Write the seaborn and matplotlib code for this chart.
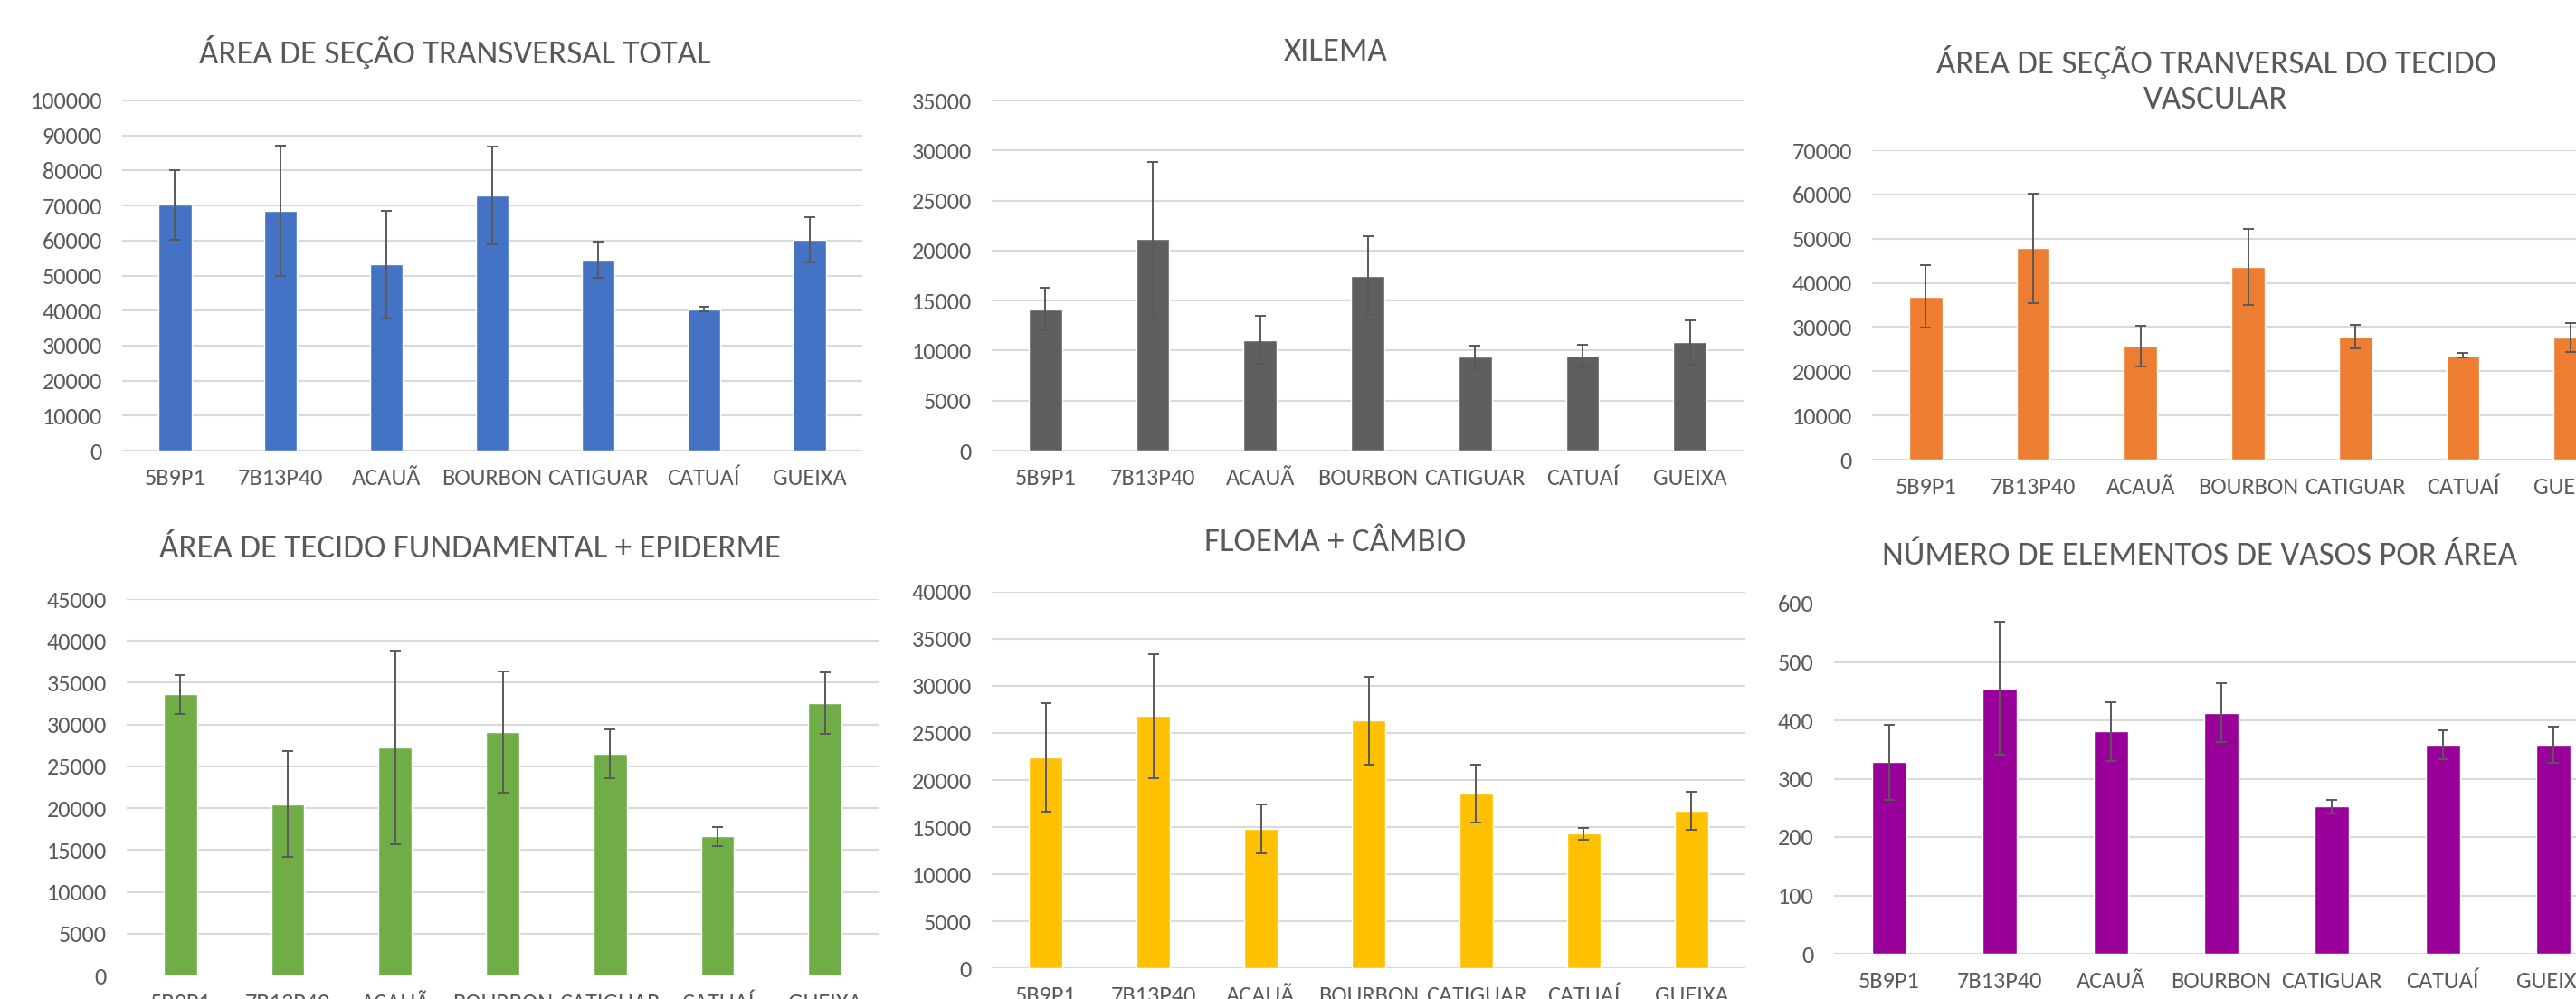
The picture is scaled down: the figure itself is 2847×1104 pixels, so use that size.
import matplotlib
matplotlib.use('Agg')
import matplotlib.pyplot as plt
from matplotlib import font_manager
import seaborn as sns
import pandas as pd

sns.set_theme(style="white")

# Calibri look-alike if present, otherwise a narrow-ish installed sans
available = {f.name for f in font_manager.fontManager.ttflist}
if 'Carlito' in available:
    FONT, TICK_SIZE, TITLE_SIZE = 'Carlito', 18.9, 26.6
else:
    FONT, TICK_SIZE, TITLE_SIZE = 'Roboto', 15, 22
plt.rcParams['font.family'] = [FONT, 'DejaVu Sans']

# Data
categories = ['5B9P1', '7B13P40', 'ACAUÃ', 'BOURBON', 'CATIGUAR', 'CATUAÍ', 'GUEIXA']

total_area = [70200, 68450, 53140, 72880, 54520, 40400, 60150]
total_area_err = [9900, 18600, 15400, 13900, 5260, 600, 6400]

xilema = [14140, 21140, 11070, 17500, 9390, 9460, 10810]
xilema_err = [2150, 7750, 2420, 3900, 1130, 1150, 2200]

vascular = [36940, 47840, 25750, 43670, 27870, 23630, 27580]
vascular_err = [7000, 12400, 4600, 8600, 2700, 500, 3300]

fundamental = [33590, 20490, 27260, 29080, 26480, 16640, 32580]
fundamental_err = [2300, 6300, 11600, 7250, 2900, 1130, 3700]

floema = [22420, 26780, 14780, 26300, 18580, 14290, 16750]
floema_err = [5800, 6570, 2600, 4700, 3100, 640, 2000]

vasos = [328, 455, 381, 413, 252, 358, 358]
vasos_err = [65, 114, 50, 50, 11.5, 25, 31]

W, H = 2847, 1104
TEXT = '#595959'

panels = [
    # title, values, errors, colour, ymax, ystep, axes box (l, r, top, bottom px), title pos (x, y px)
    ('ÁREA DE SEÇÃO TRANSVERSAL TOTAL', total_area, total_area_err, '#4472C4', 100000, 10000,
     (135, 953, 111, 498), (503, 57)),
    ('XILEMA', xilema, xilema_err, '#5F5F5F', 35000, 5000,
     (1096, 1927, 111, 498), (1476, 57)),
    ('ÁREA DE SEÇÃO TRANVERSAL DO TECIDO\nVASCULAR', vascular, vascular_err, '#ED7D31', 70000, 10000,
     (2069, 2900, 166, 508), (2449, 88)),
    ('ÁREA DE TECIDO FUNDAMENTAL + EPIDERME', fundamental, fundamental_err, '#70AD47', 45000, 5000,
     (140, 971, 662, 1078), (519, 606)),
    ('FLOEMA + CÂMBIO', floema, floema_err, '#FFC000', 40000, 5000,
     (1096, 1929, 654, 1070), (1476, 599)),
    ('NÚMERO DE ELEMENTOS DE VASOS POR ÁREA', vasos, vasos_err, '#990099', 600, 100,
     (2027, 2883, 667, 1054), (2431, 614)),
]

fig = plt.figure(figsize=(W / 100, H / 100), dpi=100)
fig.patch.set_facecolor('white')

for title, vals, errs, color, ymax, ystep, box, tpos in panels:
    l, r, t, b = box
    ax = fig.add_axes([l / W, 1 - b / H, (r - l) / W, (b - t) / H])
    df = pd.DataFrame({'cat': categories, 'val': vals})
    sns.barplot(data=df, x='cat', y='val', color=color, saturation=1,
                width=0.31, errorbar=None, ax=ax, zorder=3)
    ax.errorbar(range(len(categories)), vals, yerr=errs, fmt='none',
                ecolor='#595959', elinewidth=1.4, capsize=4.5, capthick=1.4, zorder=4)
    ax.set_xlim(-0.5, len(categories) - 0.5)
    ax.set_ylim(0, ymax)
    ax.set_yticks(range(0, ymax + 1, ystep))
    ax.grid(axis='y', color='#D9D9D9', linewidth=1.5, zorder=0)
    ax.set_axisbelow(True)
    for s in ax.spines.values():
        s.set_visible(False)
    ax.set_xlabel('')
    ax.set_ylabel('')
    ax.tick_params(axis='both', length=0, colors=TEXT, labelsize=TICK_SIZE)
    ax.tick_params(axis='y', pad=16)
    ax.tick_params(axis='x', pad=14)
    fig.text(tpos[0] / W, 1 - tpos[1] / H, title, ha='center', va='center',
             fontsize=TITLE_SIZE, color=TEXT, linespacing=1.3)

fig.savefig('out.png', dpi=100, facecolor='white')
